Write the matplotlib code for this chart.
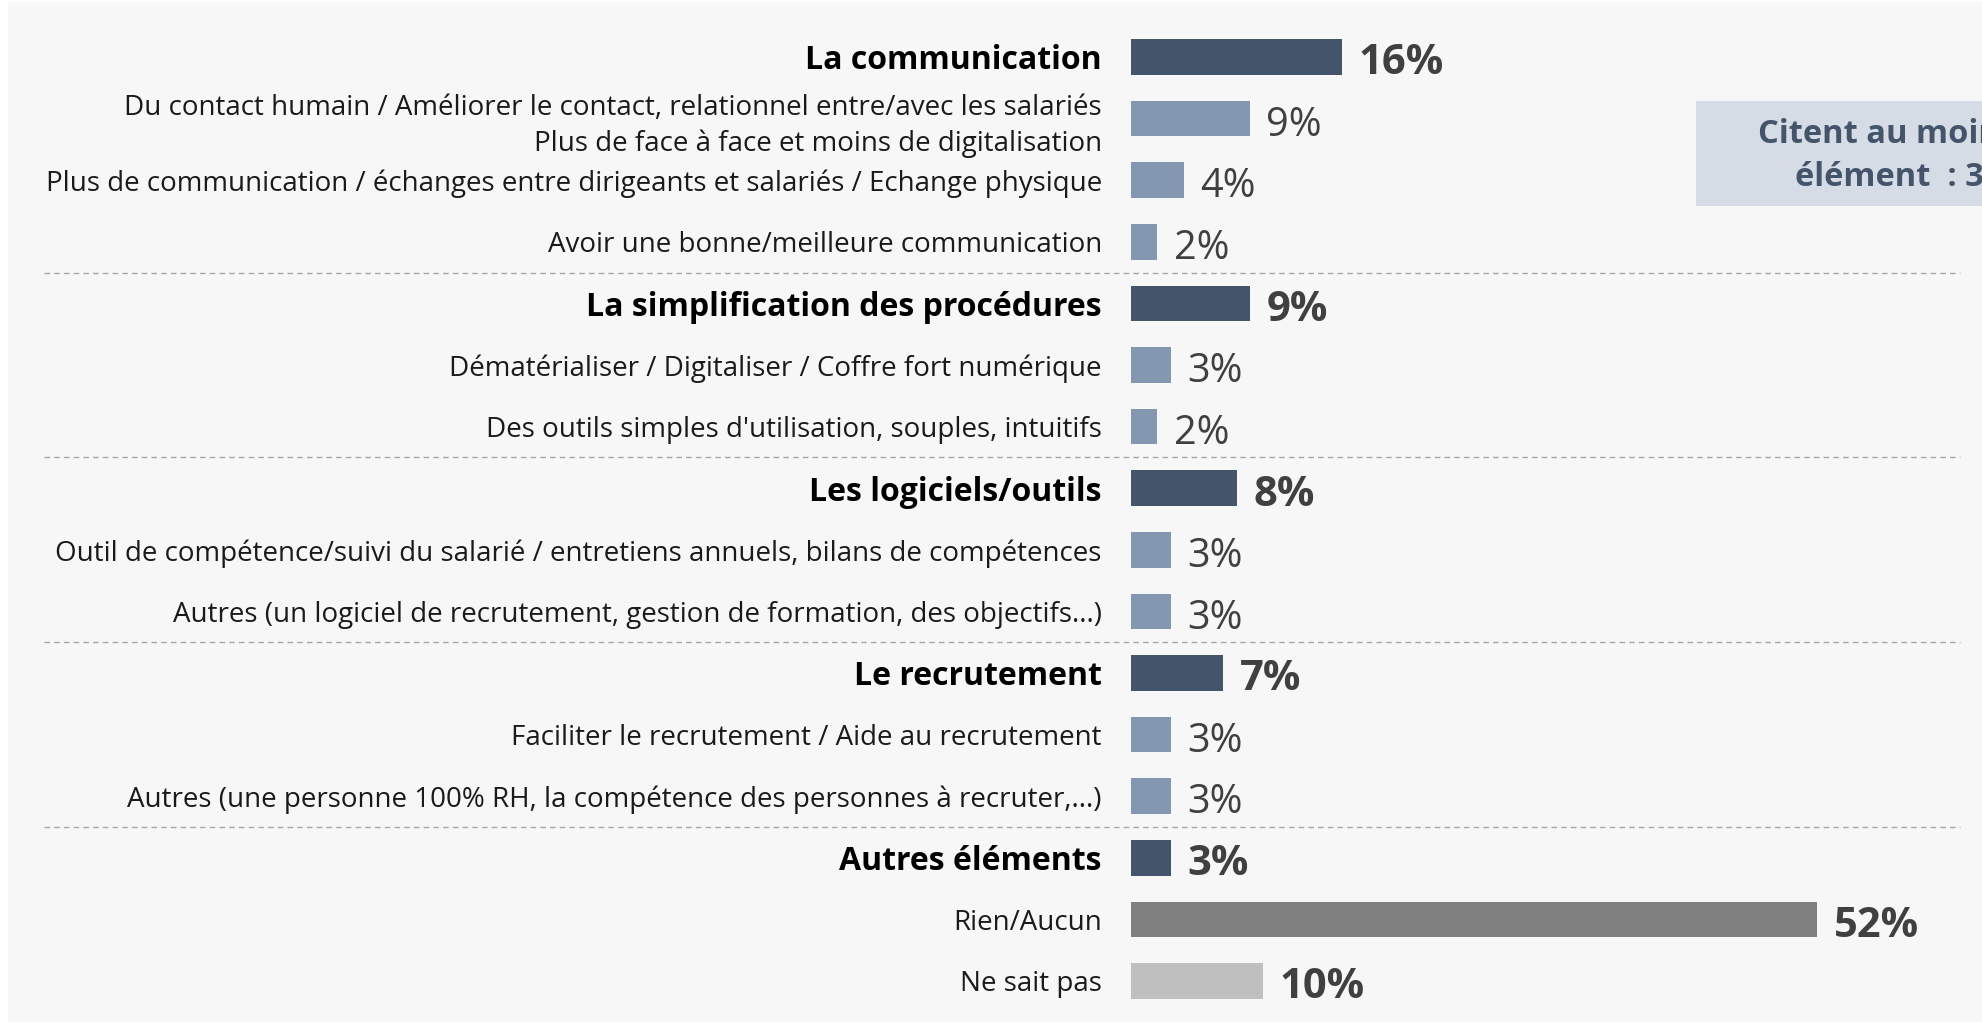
import matplotlib.pyplot as plt
from matplotlib.patches import Rectangle
from matplotlib.transforms import blended_transform_factory

plt.rcParams['font.family'] = ['Open Sans', 'DejaVu Sans']

# Libellés (de haut en bas) et valeurs en %
libelles = [
    "La communication",
    "Du contact humain / Améliorer le contact, relationnel entre/avec les salariés\nPlus de face à face et moins de digitalisation",
    "Plus de communication / échanges entre dirigeants et salariés / Echange physique",
    "Avoir une bonne/meilleure communication",
    "La simplification des procédures",
    "Dématérialiser / Digitaliser / Coffre fort numérique",
    "Des outils simples d'utilisation, souples, intuitifs",
    "Les logiciels/outils",
    "Outil de compétence/suivi du salarié / entretiens annuels, bilans de compétences",
    "Autres (un logiciel de recrutement, gestion de formation, des objectifs...)",
    "Le recrutement",
    "Faciliter le recrutement / Aide au recrutement",
    "Autres (une personne 100% RH, la compétence des personnes à recruter,...)",
    "Autres éléments",
    "Rien/Aucun",
    "Ne sait pas",
]
valeurs = [16, 9, 4, 2, 9, 3, 2, 8, 3, 3, 7, 3, 3, 3, 52, 10]
# type de ligne : "cat" = rubrique, "sub" = détail, "rien", "nsp"
types = ["cat", "sub", "sub", "sub", "cat", "sub", "sub", "cat", "sub", "sub",
         "cat", "sub", "sub", "cat", "rien", "nsp"]
separateurs = [3.5, 6.5, 9.5, 12.5]
encadre = "Citent au moins un\nélément  : 38%"

couleurs = {"cat": "#44546A", "sub": "#8497B0", "rien": "#808080", "nsp": "#BFBFBF"}

W, H = 1983, 1022
fig = plt.figure(figsize=(W / 100, H / 100), dpi=100, facecolor="white")

# fond gris clair
fig.patches.append(Rectangle((8 / W, 0), 1, 1 - 2 / H, transform=fig.transFigure,
                             facecolor="#F7F7F7", edgecolor="none", zorder=-10))

ax = fig.add_axes([1131 / W, 0.01, 0.4, 0.9644])
ax.set_facecolor("none")
n = len(valeurs)
ypos = list(range(n))
ax.barh(ypos, valeurs, height=0.58, color=[couleurs[t] for t in types])
ax.set_xlim(0, 0.4 * W / 13.2)
ax.set_ylim(n - 0.5, -0.5)

ax.set_yticks(ypos)
ax.set_yticklabels(libelles)
ax.tick_params(axis="y", length=0, pad=21)
ax.set_xticks([])
for s in ax.spines.values():
    s.set_visible(False)

for lab, t in zip(ax.get_yticklabels(), types):
    if t == "cat":
        lab.set_fontweight("bold")
        lab.set_fontsize(23)
        lab.set_color("black")
    else:
        lab.set_fontsize(20)
        lab.set_color("#1A1A1A")
        lab.set_linespacing(1.35)

for y, v, t in zip(ypos, valeurs, types):
    gras = t != "sub"
    ax.annotate(f"{v}%", (v, y), xytext=(12, -5), textcoords="offset points",
                va="center", ha="left", color="#404040",
                fontsize=30 if gras else 28.5, fontweight="bold" if gras else "normal")

# séparateurs pointillés
tr = blended_transform_factory(fig.transFigure, ax.transData)
for s in separateurs:
    ax.plot([44 / W, 1960 / W], [s, s], transform=tr, clip_on=False,
            color="#A6A6A6", lw=1, ls=(0, (4, 3)))

# encadré à droite
fig.patches.append(Rectangle((1696 / W, 1 - 206 / H), 0.3, 105 / H, transform=fig.transFigure,
                             facecolor="#D6DCE5", edgecolor="none", zorder=-5))
fig.text(1913 / W, 1 - 156 / H, encadre, ha="center", va="center", ma="center",
         fontsize=23.5, fontweight="bold", color="#44546A", linespacing=1.4)

fig.savefig("out.png", dpi=100, facecolor=fig.get_facecolor())
